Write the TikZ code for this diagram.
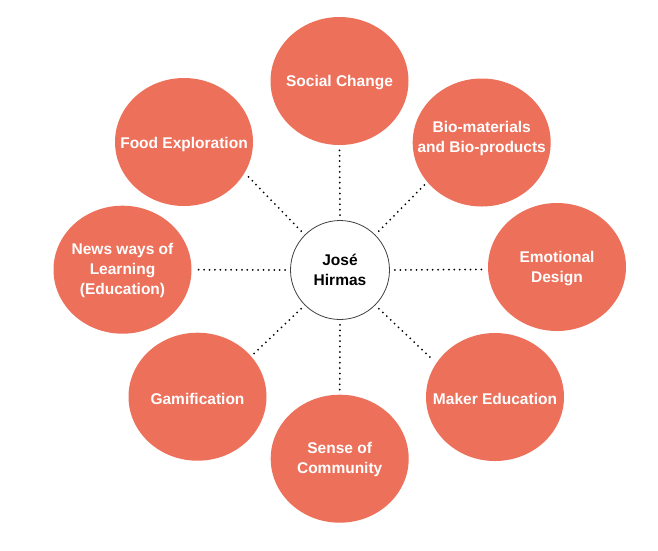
\documentclass[tikz,border=0pt]{standalone}
\usepackage{fontspec}
\setmainfont{Liberation Sans}
\usetikzlibrary{shapes.geometric}
\definecolor{salmon}{RGB}{236,112,90}

\begin{document}
\begin{tikzpicture}[x = 1pt, y = -1pt,
	topic/.style = {ellipse, fill = salmon, minimum width = 138pt, minimum height = 128pt, inner sep = 0pt},
	topictext/.style = {text = white, font = \bfseries\fontsize{15.5}{20}\selectfont, align = center},
	hub/.style = {circle, draw = black!75, line width = 0.8pt, minimum size = 99pt, inner sep = 0pt, font = \bfseries\fontsize{15.5}{19.5}\selectfont, align = center},
	link/.style = {line width = 2pt, line cap = round, dash pattern = on 0pt off 5.4pt, shorten < = 5pt, shorten > = 4pt}]

	% Frame

	\useasboundingbox (0, 0) rectangle (658, 550);

	% Centre

	\node [hub] (jose) at (340, 270) {José\\Hirmas};

	% Topics round the centre (last field: text shift)

	\foreach \name/\x/\y/\txt/\dy in {social/339.5/81/{Social Change}/-2, bio/481.7/142.5/{Bio-materials\\and Bio-products}/4, emo/557/267/{Emotional\\Design}/-2, maker/495/397/{Maker Education}/-2, community/339.7/458.7/{Sense of\\Community}/-1, gami/197.5/396.7/{Gamification}/-2, news/122.5/269.7/{News ways of\\Learning\\(Education)}/-1, food/184/142/{Food Exploration}/-2}{
		\node [topic] (\name) at (\x, \y) {};
		\node [topictext, yshift = \dy pt] at (\name) {\txt};
	}

	% Dotted spokes

	\foreach \a/\name/\b in {90/social/270, 45/bio/216, 0/emo/182, -45/maker/150, -90/community/90, -135/gami/37, 180/news/0, 135/food/-27}
		\draw [link] (jose.\a) -- (\name.\b);

\end{tikzpicture}
\end{document}
